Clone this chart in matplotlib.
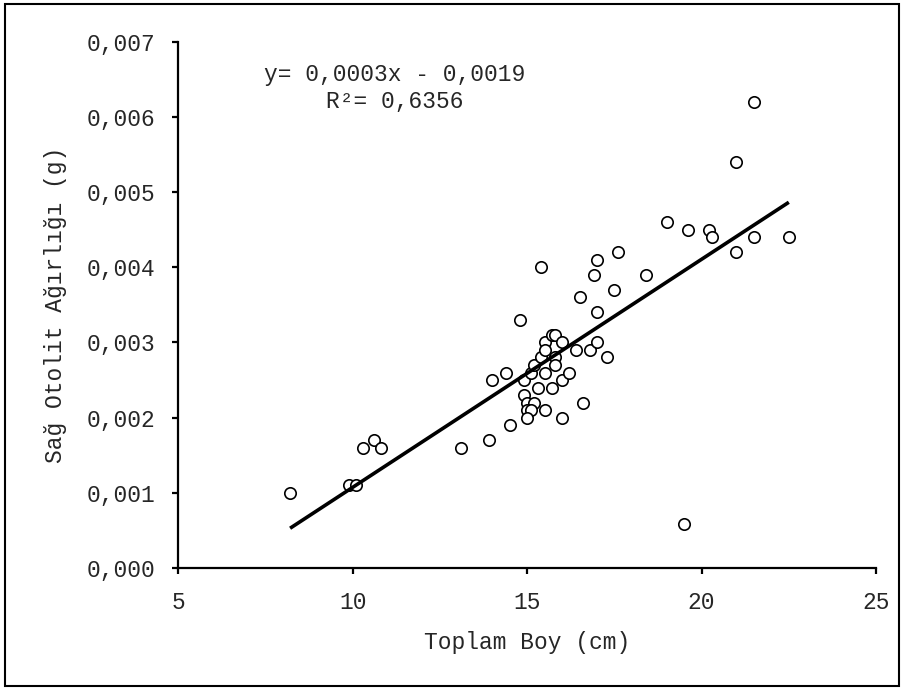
import numpy as np
import matplotlib
matplotlib.use("Agg")
import matplotlib.pyplot as plt
from matplotlib.patches import Rectangle
from matplotlib.ticker import FuncFormatter

# Data
total_length_cm = [8.2, 9.9, 10.1, 10.3, 10.6, 10.8, 13.1, 13.9, 14.0, 14.4,
                   14.5, 14.8, 14.9, 14.9, 15.0, 15.2, 15.0, 15.1, 15.0, 15.1,
                   15.2, 15.3, 15.4, 15.4, 15.5, 15.5, 15.5, 15.5, 15.7, 15.8,
                   15.7, 15.8, 15.8, 16.0, 16.0, 16.0, 16.2, 16.4, 16.5, 16.6,
                   16.8, 16.9, 17.0, 17.0, 17.0, 17.3, 17.5, 17.6, 18.4, 19.0,
                   19.5, 19.6, 20.2, 20.3, 21.0, 21.0, 21.5, 21.5, 22.5]
otolith_weight_g = [0.0010, 0.0011, 0.0011, 0.0016, 0.0017, 0.0016, 0.0016, 0.0017, 0.0025, 0.0026,
                    0.0019, 0.0033, 0.0025, 0.0023, 0.0022, 0.0022, 0.0021, 0.0021, 0.0020, 0.0026,
                    0.0027, 0.0024, 0.0028, 0.0040, 0.0030, 0.0029, 0.0026, 0.0021, 0.0031, 0.0031,
                    0.0024, 0.0028, 0.0027, 0.0030, 0.0025, 0.0020, 0.0026, 0.0029, 0.0036, 0.0022,
                    0.0029, 0.0039, 0.0041, 0.0034, 0.0030, 0.0028, 0.0037, 0.0042, 0.0039, 0.0046,
                    0.00058, 0.0045, 0.0045, 0.0044, 0.0054, 0.0042, 0.0062, 0.0044, 0.0044]

x_ticks = [5, 10, 15, 20, 25]
y_ticks = [0.000, 0.001, 0.002, 0.003, 0.004, 0.005, 0.006, 0.007]
equation_text = "y= 0,0003x - 0,0019\nR²= 0,6356"
x_label = "Toplam Boy (cm)"
y_label = "Sağ Otolit Ağırlığı (g)"

FONT = ["Liberation Mono", "DejaVu Sans Mono"]
TXT = "#262626"

fig = plt.figure(figsize=(9.03, 6.89), dpi=100)
W, H = 903, 689
ax = fig.add_axes([178.5 / W, 1 - 568 / H, (876 - 178.5) / W, (568 - 41.7) / H])

x = np.array(total_length_cm)
y = np.array(otolith_weight_g)

ax.plot(x, y, linestyle="none", marker="o", markersize=8.2,
        markerfacecolor="white", markeredgecolor="black", markeredgewidth=1.2, zorder=3)

coef = np.polyfit(x, y, 1)
xl = np.array([x.min(), x.max()])
ax.plot(xl, np.polyval(coef, xl), color="black", linewidth=2.6, zorder=4,
        solid_capstyle="butt")

ax.set_xlim(5, 25)
ax.set_ylim(0, 0.007)
ax.set_xticks(x_ticks)
ax.set_yticks(y_ticks)
ax.xaxis.set_major_formatter(FuncFormatter(lambda v, p: f"{v:.0f}"))
ax.yaxis.set_major_formatter(FuncFormatter(lambda v, p: f"{v:.3f}".replace(".", ",")))

for s in ["top", "right"]:
    ax.spines[s].set_visible(False)
for s in ["left", "bottom"]:
    ax.spines[s].set_linewidth(1.6)
    ax.spines[s].set_color("black")

ax.tick_params(axis="both", direction="out", length=4.5, width=1.6, color="black",
               labelsize=16.5, labelcolor=TXT)
ax.tick_params(axis="x", pad=12)
ax.tick_params(axis="y", pad=12)
for lab in ax.get_xticklabels() + ax.get_yticklabels():
    lab.set_fontfamily(FONT)

ax.set_xlabel(x_label, fontsize=16.5, family=FONT, color=TXT, labelpad=12)
ax.set_ylabel(y_label, fontsize=16.5, family=FONT, color=TXT, labelpad=14)

fig.text(395 / W, 1 - 88 / H, equation_text, ha="center", va="center",
         multialignment="center", fontsize=16.5, family=FONT, color=TXT,
         linespacing=1.25)

fig.patches.append(Rectangle((5 / W, 1 - 686 / H), (899 - 5) / W, (686 - 4) / H,
                             transform=fig.transFigure, fill=False,
                             edgecolor="black", linewidth=1.5))

fig.savefig("out.png", dpi=100, facecolor="white")
